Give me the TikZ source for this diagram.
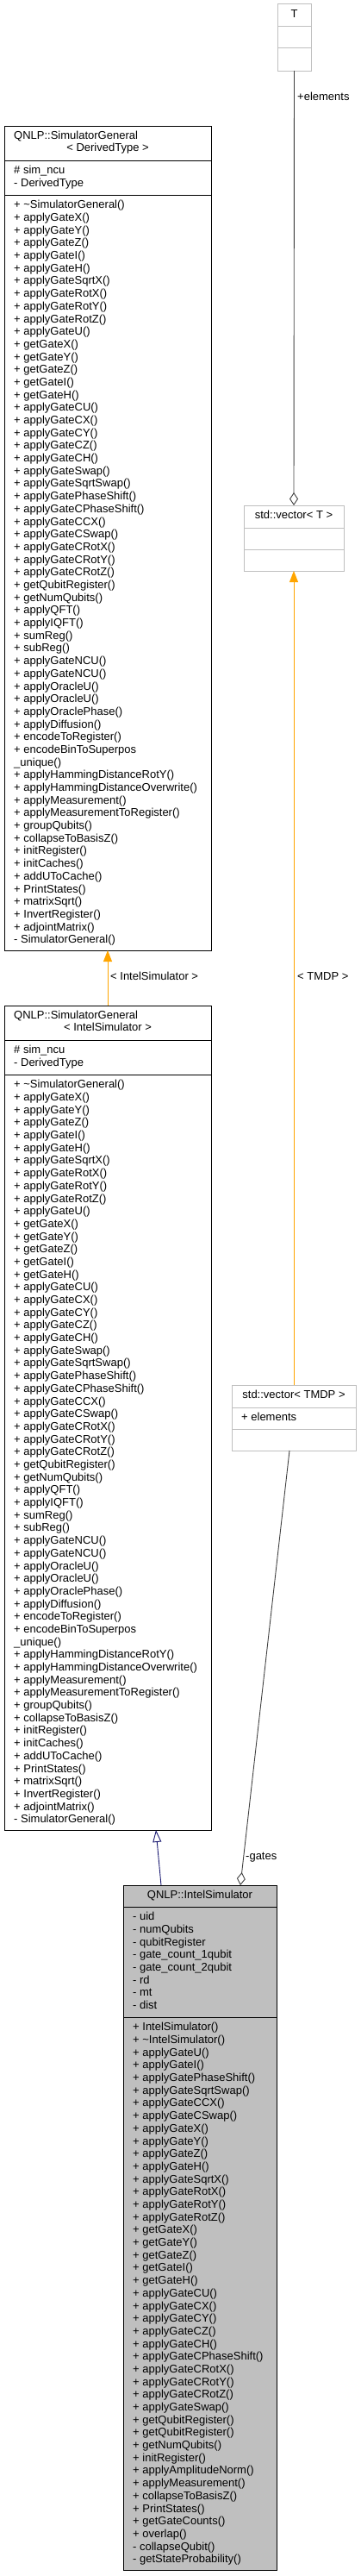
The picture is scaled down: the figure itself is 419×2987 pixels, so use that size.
\documentclass[tikz,border=0pt]{standalone}
\usepackage{fontspec}
\setmainfont{Liberation Sans}
\usetikzlibrary{arrows.meta,calc}
\definecolor{edgegray}{HTML}{404040}
\definecolor{boxgray}{HTML}{BFBFBF}
\definecolor{tmplorange}{HTML}{FFA500}
\definecolor{inhblue}{HTML}{191970}
\newcommand\sgMethodList{\strut + \textasciitilde SimulatorGeneral()\\
+ applyGateX()\\
+ applyGateY()\\
+ applyGateZ()\\
+ applyGateI()\\
+ applyGateH()\\
+ applyGateSqrtX()\\
+ applyGateRotX()\\
+ applyGateRotY()\\
+ applyGateRotZ()\\
+ applyGateU()\\
+ getGateX()\\
+ getGateY()\\
+ getGateZ()\\
+ getGateI()\\
+ getGateH()\\
+ applyGateCU()\\
+ applyGateCX()\\
+ applyGateCY()\\
+ applyGateCZ()\\
+ applyGateCH()\\
+ applyGateSwap()\\
+ applyGateSqrtSwap()\\
+ applyGatePhaseShift()\\
+ applyGateCPhaseShift()\\
+ applyGateCCX()\\
+ applyGateCSwap()\\
+ applyGateCRotX()\\
+ applyGateCRotY()\\
+ applyGateCRotZ()\\
+ getQubitRegister()\\
+ getNumQubits()\\
+ applyQFT()\\
+ applyIQFT()\\
+ sumReg()\\
+ subReg()\\
+ applyGateNCU()\\
+ applyGateNCU()\\
+ applyOracleU()\\
+ applyOracleU()\\
+ applyOraclePhase()\\
+ applyDiffusion()\\
+ encodeToRegister()\\
+ encodeBinToSuperpos\\
\_unique()\\
+ applyHammingDistanceRotY()\\
+ applyHammingDistanceOverwrite()\\
+ applyMeasurement()\\
+ applyMeasurementToRegister()\\
+ groupQubits()\\
+ collapseToBasisZ()\\
+ initRegister()\\
+ initCaches()\\
+ addUToCache()\\
+ PrintStates()\\
+ matrixSqrt()\\
+ InvertRegister()\\
+ adjointMatrix()\\
- SimulatorGeneral()}
\begin{document}
\begin{tikzpicture}[x=1pt,y=-1pt,
  every node/.style={font=\fontsize{13}{14.69}\selectfont, text=black},
  classbox/.style={draw=black, line width=1pt, fill=white, anchor=north west, inner sep=0, outer sep=0},
  tmplbox/.style={draw=boxgray, line width=1pt, fill=white, anchor=north west, inner sep=0, outer sep=0},
  textlist/.style={anchor=north west, inner sep=0, align=left},
  oneline/.style={inner sep=0},
  sepline/.style={line width=1pt, draw=black},
  tsepline/.style={line width=1pt, draw=boxgray},
  aggr/.style={draw=edgegray, line width=0.9pt, -{Diamond[open, length=15pt, width=10pt, line width=0.9pt]}},
  tmpl/.style={draw=tmplorange, line width=0.9pt, -{Triangle[length=13pt, width=10pt]}},
  inher/.style={draw=inhblue, line width=0.9pt, -{Triangle[open, length=14pt, width=10pt, line width=0.9pt]}}]
\useasboundingbox (0,0) rectangle (419,2987);

% ---------- T ----------
\node[tmplbox, minimum width=39pt, minimum height=77pt] (tbox) at (322,5) {};
\draw[tsepline] ($(tbox.north west)+(0,26)$) -- ($(tbox.north east)+(0,26)$);
\draw[tsepline] ($(tbox.north west)+(0,51)$) -- ($(tbox.north east)+(0,51)$);
\node[oneline, anchor=base] (tname) at (341.5,20.6) {T};

% ---------- std::vector< T > ----------
\node[tmplbox, minimum width=116pt, minimum height=76pt] (tvec) at (283,586) {};
\draw[tsepline] ($(tvec.north west)+(0,26)$) -- ($(tvec.north east)+(0,26)$);
\draw[tsepline] ($(tvec.north west)+(0,51)$) -- ($(tvec.north east)+(0,51)$);
\node[oneline, anchor=base] (tvecname) at (341,601.6) {std::vector< T >};

% ---------- std::vector< TMDP > ----------
\node[tmplbox, minimum width=144pt, minimum height=76pt] (tmdp) at (269,1606) {};
\draw[tsepline] ($(tmdp.north west)+(0,26)$) -- ($(tmdp.north east)+(0,26)$);
\draw[tsepline] ($(tmdp.north west)+(0,51)$) -- ($(tmdp.north east)+(0,51)$);
\node[oneline, anchor=base] (tmdpname) at (341,1621.6) {std::vector< TMDP >};
\node[textlist] (tmdpattr) at (280,1637.3) {\strut + elements};

% ---------- QNLP::SimulatorGeneral< DerivedType > ----------
\node[classbox, minimum width=240pt, minimum height=956pt] (sgd) at (5,146) {};
\draw[sepline] ($(sgd.north west)+(0,40)$) -- ($(sgd.north east)+(0,40)$);
\draw[sepline] ($(sgd.north west)+(0,80)$) -- ($(sgd.north east)+(0,80)$);
\node[oneline, anchor=base west] (sgdname1) at (16,161) {QNLP::SimulatorGeneral};
\node[oneline, anchor=base] (sgdname2) at (125,175.7) {< DerivedType >};
\node[textlist] (sgdattr) at (16,191.3) {\strut\# sim\_ncu\\- DerivedType};
\node[textlist] (sgdmeth) at (16,231.3) {\sgMethodList};

% ---------- QNLP::SimulatorGeneral< IntelSimulator > ----------
\node[classbox, minimum width=240pt, minimum height=956pt] (sgi) at (5,1166) {};
\draw[sepline] ($(sgi.north west)+(0,40)$) -- ($(sgi.north east)+(0,40)$);
\draw[sepline] ($(sgi.north west)+(0,80)$) -- ($(sgi.north east)+(0,80)$);
\node[oneline, anchor=base west] (sginame1) at (16,1181) {QNLP::SimulatorGeneral};
\node[oneline, anchor=base] (sginame2) at (125,1195.7) {< IntelSimulator >};
\node[textlist] (sgiattr) at (16,1211.3) {\strut\# sim\_ncu\\- DerivedType};
\node[textlist] (sgimeth) at (16,1251.3) {\sgMethodList};

% ---------- QNLP::IntelSimulator ----------
\node[classbox, fill=boxgray, minimum width=178pt, minimum height=794pt] (intel) at (143,2186) {};
\draw[sepline] ($(intel.north west)+(0,25)$) -- ($(intel.north east)+(0,25)$);
\draw[sepline] ($(intel.north west)+(0,153)$) -- ($(intel.north east)+(0,153)$);
\node[oneline, anchor=base] (intelname) at (232,2201.6) {QNLP::IntelSimulator};
\node[textlist] (intelattr) at (154,2216.3) {\strut - uid\\
- numQubits\\
- qubitRegister\\
- gate\_count\_1qubit\\
- gate\_count\_2qubit\\
- rd\\
- mt\\
- dist};
\node[textlist] (intelmeth) at (154,2344.3) {\strut + IntelSimulator()\\
+ \textasciitilde IntelSimulator()\\
+ applyGateU()\\
+ applyGateI()\\
+ applyGatePhaseShift()\\
+ applyGateSqrtSwap()\\
+ applyGateCCX()\\
+ applyGateCSwap()\\
+ applyGateX()\\
+ applyGateY()\\
+ applyGateZ()\\
+ applyGateH()\\
+ applyGateSqrtX()\\
+ applyGateRotX()\\
+ applyGateRotY()\\
+ applyGateRotZ()\\
+ getGateX()\\
+ getGateY()\\
+ getGateZ()\\
+ getGateI()\\
+ getGateH()\\
+ applyGateCU()\\
+ applyGateCX()\\
+ applyGateCY()\\
+ applyGateCZ()\\
+ applyGateCH()\\
+ applyGateCPhaseShift()\\
+ applyGateCRotX()\\
+ applyGateCRotY()\\
+ applyGateCRotZ()\\
+ applyGateSwap()\\
+ getQubitRegister()\\
+ getQubitRegister()\\
+ getNumQubits()\\
+ initRegister()\\
+ applyAmplitudeNorm()\\
+ applyMeasurement()\\
+ collapseToBasisZ()\\
+ PrintStates()\\
+ getGateCounts()\\
+ overlap()\\
- collapseQubit()\\
- getStateProbability()};

% ---------- connectors ----------
\draw[aggr] (tbox.south) -- (tvec.north);
\node[oneline, anchor=base west] (lblelements) at (345,116.5) {+elements};

\draw[tmpl] (tmdp.north) -- (tvec.south);
\node[oneline, anchor=base west] (lbltmdp) at (345,1136.5) {< TMDP >};

\draw[tmpl] (sgi.north) -- (sgd.south);
\node[oneline, anchor=base west] (lblintel) at (128,1136.5) {< IntelSimulator >};

\draw[aggr] ($(tmdp.south)+(-5,0)$) -- ($(intel.north west)+(136,0)$);
\node[oneline, anchor=base west] (lblgates) at (285,2156.5) {-gates};

\draw[inher] ($(intel.north west)+(44,0)$) -- ($(sgi.south west)+(176,0)$);
\end{tikzpicture}
\end{document}
